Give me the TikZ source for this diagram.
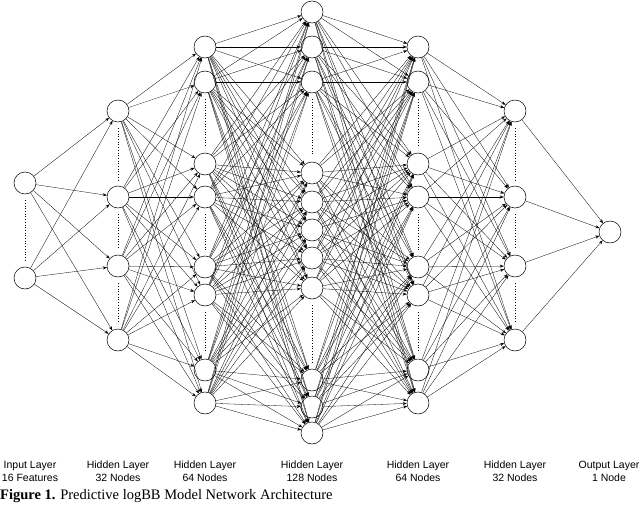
\documentclass[tikz,border=0pt]{standalone}
\usepackage{fontspec}
\setmainfont{Liberation Serif}
\setsansfont{Liberation Sans}
\usetikzlibrary{arrows.meta}
\begin{document}
\begin{tikzpicture}[x=1pt,y=-1pt,
  neuron/.style={circle,draw,line width=0.5pt,minimum size=22pt,inner sep=0pt,fill=white},
  conn/.style={line width=0.3pt,-{Stealth[length=4pt,width=3pt]}},
  dotsline/.style={dotted,line width=0.7pt},
  lab/.style={font=\sffamily\fontsize{10.5}{13}\selectfont,align=center}]
\useasboundingbox (0,0) rectangle (640,527);
% layers
\foreach \y [count=\j] in {183,278} \node[neuron] (A\j) at (25,\y) {};
\foreach \y [count=\j] in {111,197,266,340} \node[neuron] (B\j) at (118,\y) {};
\foreach \y [count=\j] in {47,82,164,197,267,295,370,403} \node[neuron] (C\j) at (205,\y) {};
\foreach \y [count=\j] in {12,47,82,173,202,230,258,288,380,407,433} \node[neuron] (D\j) at (312,\y) {};
\foreach \y [count=\j] in {47,82,164,197,267,295,370,403} \node[neuron] (E\j) at (418,\y) {};
\foreach \y [count=\j] in {111,197,266,340} \node[neuron] (F\j) at (515,\y) {};
\node[neuron] (G1) at (610,232) {};
% dotted separators
\foreach \a/\b in {A1/A2,B1/B2,B2/B3,B3/B4,F1/F2,F2/F3,F3/F4,C2/C3,C4/C5,C6/C7,E2/E3,E4/E5,E6/E7,D3/D4,D8/D9}
  \draw[dotsline] ([yshift=-6pt]\a.south) -- ([yshift=6pt]\b.north);
% connections
\foreach \i in {1,2} \foreach \j in {1,...,4} \draw[conn] (A\i) -- (B\j);
\foreach \i in {1,...,4} \foreach \j in {1,...,8} \draw[conn] (B\i) -- (C\j);
\foreach \i in {1,...,8} \foreach \j in {1,...,11} \draw[conn] (C\i) -- (D\j);
\foreach \i in {1,...,11} \foreach \j in {1,...,8} \draw[conn] (D\i) -- (E\j);
\foreach \i in {1,...,8} \foreach \j in {1,...,4} \draw[conn] (E\i) -- (F\j);
\foreach \i in {1,...,4} \draw[conn] (F\i) -- (G1);
% labels
\node[lab] (tA) at (30,471) {Input Layer\\16 Features};
\node[lab] (tB) at (118,471) {Hidden Layer\\32 Nodes};
\node[lab] (tC) at (205,471) {Hidden Layer\\64 Nodes};
\node[lab] (tD) at (312,471) {Hidden Layer\\128 Nodes};
\node[lab] (tE) at (418,471) {Hidden Layer\\64 Nodes};
\node[lab] (tF) at (515,471) {Hidden Layer\\32 Nodes};
\node[lab] (tG) at (609,471) {Output Layer\\1 Node};
\node[anchor=west,font=\fontsize{14.5}{16}\selectfont,inner sep=0pt] (cap) at (0,496) {\textbf{Figure 1.} Predictive logBB Model Network Architecture};
\end{tikzpicture}
\end{document}
